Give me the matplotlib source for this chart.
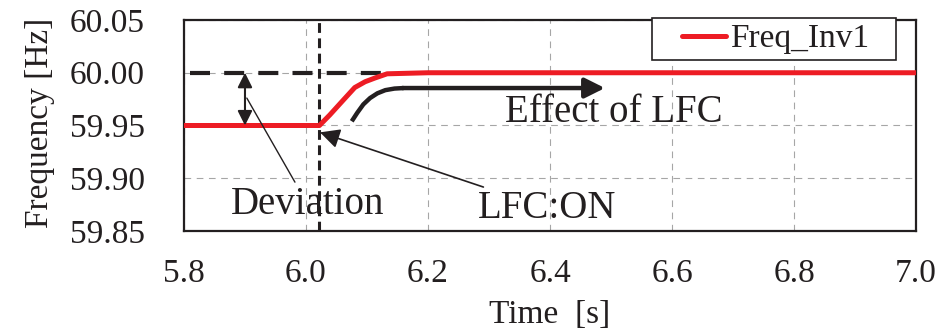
import matplotlib
matplotlib.use("Agg")
import numpy as np
import matplotlib.pyplot as plt
from matplotlib.legend_handler import HandlerLine2D
from matplotlib.lines import Line2D

plt.rcParams['font.family'] = ['Liberation Serif', 'DejaVu Serif']

# Inverter frequency response around the LFC switch-on
time_s = [5.800, 5.900, 6.000, 6.022, 6.039, 6.061, 6.080, 6.097, 6.113, 6.133,
          6.200, 6.400, 6.600, 6.800, 7.000]
freq_hz = [59.950, 59.950, 59.950, 59.950, 59.960, 59.974, 59.986, 59.9915, 59.995, 59.999,
           60.000, 60.000, 60.000, 60.000, 60.000]

x_ticks = [5.8, 6.0, 6.2, 6.4, 6.6, 6.8, 7.0]
x_tick_labels = ["5.8", "6.0", "6.2", "6.4", "6.6", "6.8", "7.0"]
y_ticks = [59.85, 59.90, 59.95, 60.00, 60.05]
y_tick_labels = ["59.85", "59.90", "59.95", "60.00", "60.05"]

lfc_on_time = 6.022
nominal_freq = 60.00
initial_freq = 59.95

INK = '#231f20'
RED = '#ed1c24'


class IndentedLineHandler(HandlerLine2D):
    """Legend line drawn only over the right part of the handle box."""

    def __init__(self, indent=0.0, **kw):
        super().__init__(**kw)
        self.indent = indent

    def create_artists(self, legend, orig_handle, xdescent, ydescent, width,
                       height, fontsize, trans):
        arts = super().create_artists(legend, orig_handle, xdescent, ydescent,
                                      width, height, fontsize, trans)
        for a in arts:
            if isinstance(a, Line2D) and a.get_linestyle() not in ('None', ''):
                xd = np.asarray(a.get_xdata(), dtype=float)
                a.set_xdata(np.linspace(xd[0] + self.indent * fontsize, xd[-1], len(xd)))
        return arts


fig = plt.figure(figsize=(9.43, 3.31), dpi=100)
ax = fig.add_axes([0.1951, 0.3021, 0.7763, 0.6375])

ax.set_xlim(5.8, 7.0)
ax.set_ylim(59.85, 60.05)
ax.set_xticks(x_ticks)
ax.set_xticklabels(x_tick_labels)
ax.set_yticks(y_ticks)
ax.set_yticklabels(y_tick_labels)
ax.tick_params(axis='both', length=0, labelsize=24, colors=INK)
ax.tick_params(axis='y', pad=28)
ax.tick_params(axis='x', pad=20)

ax.grid(True, color='#a6a6a6', linewidth=0.8, linestyle=(0, (6, 5)))
ax.set_axisbelow(True)
for sp in ax.spines.values():
    sp.set_color(INK)
    sp.set_linewidth(1.6)

# reference lines
ax.plot([5.81, 6.135], [nominal_freq, nominal_freq], color=INK, linewidth=3.0,
        linestyle=(0, (4.8, 3.4)), zorder=2)
ax.axvline(lfc_on_time, color=INK, linewidth=2.2, linestyle=(0, (3.2, 1.8)), zorder=2)

# measured frequency
line, = ax.plot(time_s, freq_hz, color=RED, linewidth=3.6, label='Freq_Inv1', zorder=3,
                solid_capstyle='round')

# deviation marker
ax.annotate('', xy=(5.9, initial_freq), xytext=(5.9, nominal_freq),
            arrowprops=dict(arrowstyle='<|-|>', color=INK, lw=1.5, mutation_scale=22,
                            shrinkA=0, shrinkB=0), zorder=4)
ax.annotate('Deviation', xy=(5.903, 59.976), xytext=(6.003, 59.875),
            fontsize=28, color=INK, ha='center', va='center',
            arrowprops=dict(arrowstyle='-', color=INK, lw=1.0, shrinkA=1, shrinkB=0))

# LFC switch-on marker
ax.annotate('LFC:ON', xy=(6.023, 59.9435), xytext=(6.395, 59.8715),
            fontsize=28, color=INK, ha='center', va='center',
            arrowprops=dict(arrowstyle='-|>', color=INK, lw=1.2, mutation_scale=30,
                            shrinkA=0, shrinkB=0))

# effect arrow
curve_t = [6.075, 6.084, 6.094, 6.105, 6.117, 6.130, 6.145, 6.160]
curve_f = [59.954, 59.962, 59.970, 59.976, 59.9805, 59.9835, 59.985, 59.9855]
ax.plot(curve_t, curve_f, color=INK, linewidth=3.2, solid_capstyle='butt', zorder=4)
ax.annotate('', xy=(6.49, 59.9855), xytext=(6.158, 59.9855),
            arrowprops=dict(arrowstyle='-|>', color=INK, lw=3.2, mutation_scale=30,
                            shrinkA=0, shrinkB=0), zorder=4)
ax.text(6.505, 59.9625, 'Effect of LFC', fontsize=28, color=INK, ha='center', va='center')

ax.set_ylabel('Frequency [Hz]', fontsize=24, color=INK)
ax.yaxis.set_label_coords(-0.176, 0.514)
ax.set_xlabel('Time  [s]', fontsize=24, color=INK)
ax.xaxis.set_label_coords(0.5, -0.325)

leg = ax.legend(handles=[line], loc='upper right',
                bbox_to_anchor=(0.6393, 0.0, 0.3333, 1.0095), mode='expand',
                borderaxespad=0, fontsize=24, frameon=True, fancybox=False,
                handlelength=2.05, handletextpad=0.12, borderpad=0.18, labelcolor=INK,
                handler_map={Line2D: IndentedLineHandler(indent=0.72)})
leg.get_frame().set_edgecolor(INK)
leg.get_frame().set_linewidth(1.2)
leg.get_frame().set_alpha(1)
for h in leg.legend_handles:
    h.set_linewidth(3.6)

fig.savefig('out.png', dpi=100)
